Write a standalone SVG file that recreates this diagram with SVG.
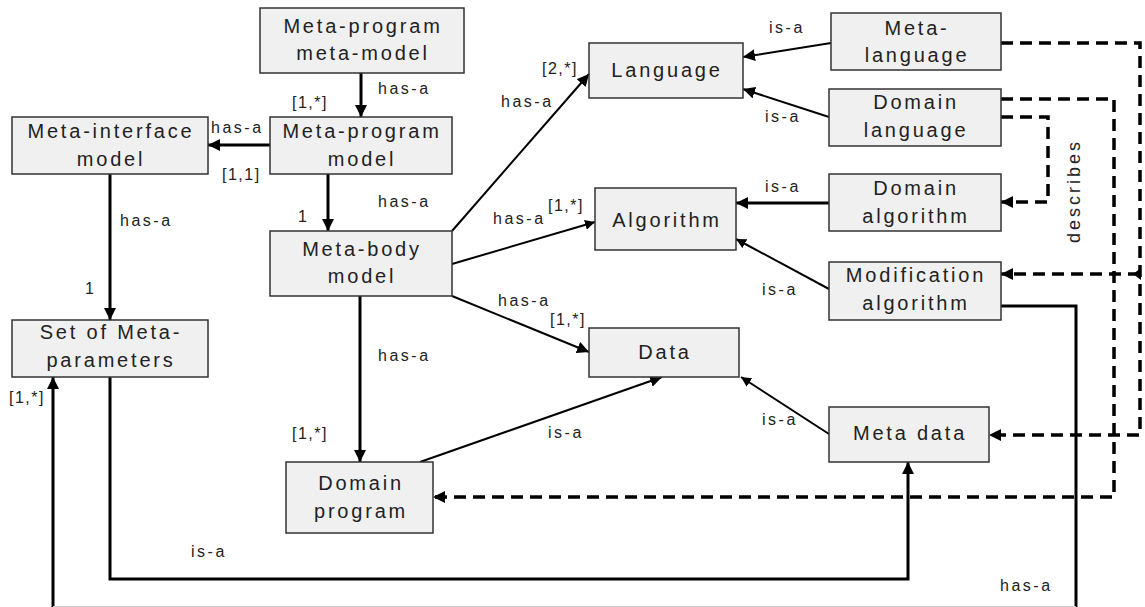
<svg xmlns="http://www.w3.org/2000/svg" width="1145" height="607" viewBox="0 0 1145 607">
<style>
.box{fill:#f0f0f0;stroke:#333;stroke-width:1.5}
.t{font-family:"Liberation Sans",Arial,sans-serif;font-size:20px;letter-spacing:2.8px;fill:#222;text-anchor:middle}
.l{font-family:"Liberation Sans",Arial,sans-serif;font-size:16px;letter-spacing:2.5px;fill:#222}
.m{font-family:"Liberation Sans",Arial,sans-serif;font-size:16px;letter-spacing:1.5px;fill:#222}
.thick{fill:none;stroke:#000;stroke-width:3}
.thin{fill:none;stroke:#000;stroke-width:2}
.dash{fill:none;stroke:#000;stroke-width:3.5;stroke-dasharray:12,7}
</style>
<defs>
<marker id="a" viewBox="0 0 12 12" markerUnits="userSpaceOnUse" markerWidth="12" markerHeight="12" refX="12" refY="6" orient="auto"><path d="M0,0 L12,6 L0,12 z" fill="#000"/></marker>
<marker id="s" viewBox="0 0 10 10" markerUnits="userSpaceOnUse" markerWidth="10" markerHeight="10" refX="10" refY="5" orient="auto"><path d="M0,0 L10,5 L0,10 z" fill="#000"/></marker>
</defs>
<g id="connectors">
<path class="thick" d="M361,73 L361,117" marker-end="url(#a)"/>
<path class="thick" d="M270,145 L208,145" marker-end="url(#a)"/>
<path class="thick" d="M110,174 L110,320" marker-end="url(#a)"/>
<path class="thick" d="M328,174 L328,231" marker-end="url(#a)"/>
<path class="thin" d="M452,231 L589,74" marker-end="url(#a)"/>
<path class="thin" d="M452,264 L595,222" marker-end="url(#s)"/>
<path class="thin" d="M452,296 L589,352" marker-end="url(#a)"/>
<path class="thick" d="M360,296 L360,462" marker-end="url(#a)"/>
<path class="thin" d="M420,462 L662,377" marker-end="url(#a)"/>
<path class="thin" d="M831,43 L743,57" marker-end="url(#a)"/>
<path class="thin" d="M829,117 L743,89" marker-end="url(#a)"/>
<path class="thick" d="M829,203 L736,203" marker-end="url(#a)"/>
<path class="thin" d="M829,289 L736,239" marker-end="url(#s)"/>
<path class="thin" d="M829,434 L741,377" marker-end="url(#s)"/>
<path class="thick" d="M110,377 L110,579 L908,579 L908,462" marker-end="url(#a)"/>
<path class="thick" d="M1001,306 L1076,306 L1076,609 L53,609 L53,377" marker-end="url(#a)"/>
<path d="M53,606.5 L1076,606.5" fill="none" stroke="#cfcfcf" stroke-width="1"/>
<path class="dash" d="M1001,43 L1140,43 L1140,435 L989,435" marker-end="url(#a)"/>
<path class="dash" d="M1140,274 L1001,274" marker-end="url(#a)"/>
<path d="M1133,274 L1141,268 L1141,280 z" fill="#000"/>
<path class="dash" d="M1001,99 L1114,99 L1114,497 L433,497" marker-end="url(#a)"/>
<path class="dash" d="M1001,117 L1048,117 L1048,202 L1001,202" marker-end="url(#a)"/>
<text class="l" x="378" y="94">has-a</text>
<text class="m" x="292" y="108">[1,*]</text>
<text class="l" x="211" y="133">has-a</text>
<text class="m" x="222" y="180">[1,1]</text>
<text class="l" x="378" y="207">has-a</text>
<text class="m" x="298" y="222">1</text>
<text class="l" x="120" y="226">has-a</text>
<text class="m" x="85" y="294">1</text>
<text class="l" x="501" y="107">has-a</text>
<text class="m" x="542" y="74">[2,*]</text>
<text class="l" x="493" y="224">has-a</text>
<text class="m" x="548" y="211">[1,*]</text>
<text class="l" x="498" y="306">has-a</text>
<text class="m" x="550" y="325">[1,*]</text>
<text class="l" x="378" y="361">has-a</text>
<text class="m" x="292" y="439">[1,*]</text>
<text class="l" x="548" y="438">is-a</text>
<text class="l" x="769" y="33">is-a</text>
<text class="l" x="765" y="122">is-a</text>
<text class="l" x="765" y="192">is-a</text>
<text class="l" x="762" y="295">is-a</text>
<text class="l" x="762" y="425">is-a</text>
<text class="l" x="191" y="557">is-a</text>
<text class="l" x="1000" y="591">has-a</text>
<text class="m" x="9" y="403">[1,*]</text>
<text class="l" transform="translate(1080,191) rotate(-90)" text-anchor="middle" style="font-size:18px;letter-spacing:3px">describes</text>
</g>
<g id="mpmm"><rect class="box" x="260" y="8" width="204" height="65"/><text class="t" x="363" y="33">Meta-program</text><text class="t" x="363" y="60">meta-model</text></g>
<g id="mpm"><rect class="box" x="270" y="117" width="182" height="57"/><text class="t" x="362" y="138">Meta-program</text><text class="t" x="362" y="166">model</text></g>
<g id="mim"><rect class="box" x="12" y="117" width="196" height="57"/><text class="t" x="111" y="138">Meta-interface</text><text class="t" x="111" y="166">model</text></g>
<g id="mbm"><rect class="box" x="270" y="231" width="182" height="65"/><text class="t" x="362" y="256">Meta-body</text><text class="t" x="362" y="283">model</text></g>
<g id="smp"><rect class="box" x="12" y="320" width="196" height="57"/><text class="t" x="111" y="339">Set of Meta-</text><text class="t" x="111" y="367">parameters</text></g>
<g id="dp"><rect class="box" x="286" y="462" width="147" height="71"/><text class="t" x="361" y="490">Domain</text><text class="t" x="361" y="518">program</text></g>
<g id="lang"><rect class="box" x="589" y="43" width="154" height="55"/><text class="t" x="667" y="77">Language</text></g>
<g id="alg"><rect class="box" x="595" y="188" width="141" height="62"/><text class="t" x="667" y="227">Algorithm</text></g>
<g id="data"><rect class="box" x="589" y="328" width="150" height="49"/><text class="t" x="665" y="359">Data</text></g>
<g id="ml"><rect class="box" x="831" y="13" width="170" height="57"/><text class="t" x="917" y="35">Meta-</text><text class="t" x="917" y="62">language</text></g>
<g id="dl"><rect class="box" x="829" y="89" width="172" height="57"/><text class="t" x="916" y="109">Domain</text><text class="t" x="916" y="137">language</text></g>
<g id="da"><rect class="box" x="829" y="174" width="172" height="57"/><text class="t" x="916" y="195">Domain</text><text class="t" x="916" y="223">algorithm</text></g>
<g id="ma"><rect class="box" x="829" y="262" width="172" height="58"/><text class="t" x="916" y="282">Modification</text><text class="t" x="916" y="310">algorithm</text></g>
<g id="md"><rect class="box" x="829" y="407" width="160" height="55"/><text class="t" x="910" y="440">Meta data</text></g>
</svg>
